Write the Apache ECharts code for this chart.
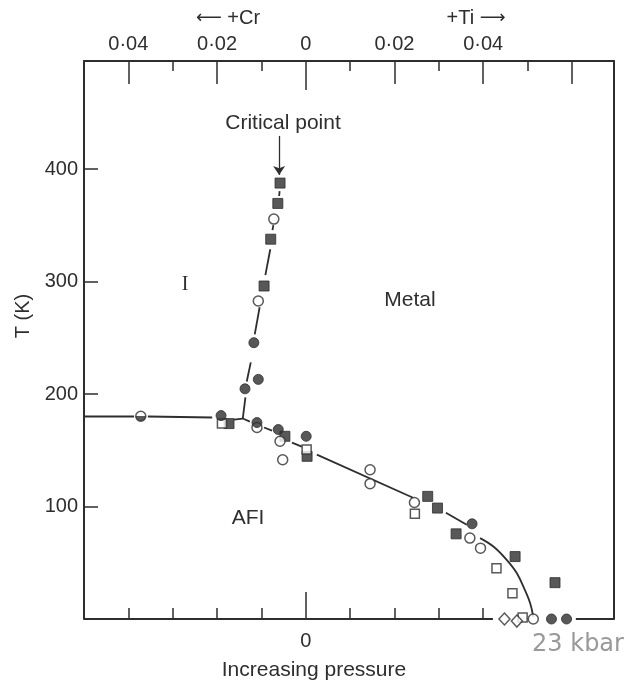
<!DOCTYPE html>
<html>
<head>
<meta charset="utf-8">
<script src="https://cdn.jsdelivr.net/npm/echarts@6/dist/echarts.min.js"></script>
<style>
  html, body { margin: 0; padding: 0; background: #fff; }
  #phase-chart { width: 628px; height: 690px; }
</style>
</head>
<body>
<div id="phase-chart"></div>
<script>
// x = composition (+Cr to the left, +Ti to the right), y = T (K)
var xMin = -0.05, xMax = 0.0695;
var yMin = 0, yMax = 496;
var yTicks = [100, 200, 300, 400];
var topMajorTicks = [-0.04, -0.02, 0.02, 0.04, 0.06];
var topMinorTicks = [-0.03, -0.01, 0.01, 0.03, 0.05];
var topLabels = [-0.04, -0.02, 0, 0.02, 0.04];
var bottomTicks = [-0.04, -0.03, -0.02, -0.01, 0, 0.01, 0.02, 0.03, 0.04];

var filledSquares = [
  [-0.0058, 387.5], [-0.0063, 369.4], [-0.0079, 337.6], [-0.0094, 296.0],
  [-0.0173, 173.7], [-0.0047, 162.4], [0.0003, 144.6], [0.0275, 109.0],
  [0.0297, 98.6], [0.0339, 75.7], [0.0472, 55.5], [0.0562, 32.3]
];
var openSquares = [
  [-0.0189, 173.7], [0.0002, 150.6], [0.0246, 93.5], [0.0430, 45.2],
  [0.0466, 22.9], [0.0489, 1.3]
];
var openCircles = [
  [-0.0072, 355.5], [-0.0107, 282.7], [-0.0110, 170.2], [-0.0058, 158.0],
  [-0.0052, 141.6], [0.0145, 132.7], [0.0145, 120.3], [0.0245, 103.6],
  [0.0370, 71.9], [0.0394, 63.0], [0.0513, 0]
];
var filledCircles = [
  [-0.0117, 245.6], [-0.0107, 213.0], [-0.0137, 204.6], [-0.0191, 180.8],
  [-0.0110, 174.6], [-0.0062, 168.4], [0.0001, 162.4], [0.0375, 84.6],
  [0.0554, 0], [0.0588, 0]
];
var openDiamonds = [[0.0448, 0], [0.0476, -1.8]];
var halfCircles = [[-0.0372, 180.2]];

// phase boundary, drawn in broken pieces as in the figure
var boundarySegs = [
  [[-0.05, 180], [-0.0387, 180]],
  [[-0.0356, 180], [-0.0211, 179.1]],
  [[-0.0162, 177.3], [-0.0142, 178.2], [-0.0126, 175.5]],
  [[-0.0142, 178.2], [-0.0136, 196.9]],
  [[-0.0133, 211.1], [-0.0124, 228.1]],
  [[-0.0115, 253.0], [-0.0104, 277.1]],
  [[-0.0091, 305.6], [-0.0080, 328.7]],
  [[-0.0075, 345.7], [-0.0073, 350.1]],
  [[-0.0060, 376.0], [-0.0059, 380.4]],
  [[-0.0094, 170.2], [-0.0076, 167.5]],
  [[-0.0031, 156.8], [-0.0009, 153.2]],
  [[0.0025, 146.1], [0.0242, 107.8]],
  [[0.0316, 94.4], [0.0363, 83.7]]
];
var curveSeg = [
  [0.0393, 71.9], [0.0423, 64.4], [0.0453, 52.6], [0.0476, 40.7],
  [0.0494, 25.8], [0.0506, 14.0], [0.0513, 2.0]
];
var baseLineSegs = [
  [[-0.05, 0], [0.0422, 0]],
  [[0.0609, 0], [0.0695, 0]]
];
var arrowPts = [[-0.0060, 429.4], [-0.0060, 394.7]];

var ink = '#2e2e2e';
var fontFam = '"Liberation Sans", Arial, sans-serif';
var chart = echarts.init(document.getElementById('phase-chart'));

function fmtTop(v) {
  if (Math.abs(v) < 1e-9) return '0';
  return Math.abs(v).toFixed(2).replace('.', '\u00b7');
}

function plainAxis(pos, extra) {
  var ax = {
    type: 'value', position: pos, min: xMin, max: xMax,
    axisLine: { show: false },
    axisTick: { show: false },
    axisLabel: { show: false },
    splitLine: { show: false }
  };
  for (var k in extra) ax[k] = extra[k];
  return ax;
}

var series = [];
boundarySegs.forEach(function (seg, i) {
  var s = {
    type: 'line', data: seg, symbol: 'none', silent: true, z: 2,
    lineStyle: { color: ink, width: 1.8 }
  };
  if (i === 8) {
    s.markLine = {
      silent: true, symbol: ['none', 'arrow'], symbolSize: 9,
      label: { show: false },
      lineStyle: { color: ink, width: 1.3, type: 'solid' },
      data: [[{ coord: arrowPts[0] }, { coord: arrowPts[1] }]]
    };
  }
  series.push(s);
});
series.push({
  type: 'line', data: curveSeg, symbol: 'none', smooth: 0.4, silent: true, z: 2,
  lineStyle: { color: ink, width: 1.8 }
});
baseLineSegs.forEach(function (seg) {
  series.push({
    type: 'line', data: seg, symbol: 'none', silent: true, z: 2,
    lineStyle: { color: ink, width: 2 }
  });
});

function markers(data, symbol, size, filled) {
  return {
    type: 'scatter', data: data, symbol: symbol, symbolSize: size, clip: false, z: 5,
    itemStyle: filled
      ? { color: ink, borderColor: ink, borderWidth: 1 }
      : { color: '#fff', borderColor: ink, borderWidth: 1.5 }
  };
}
series.push(markers(filledSquares, 'rect', 10, true));
series.push(markers(openSquares, 'rect', 9, false));
series.push(markers(openCircles, 'circle', 10, false));
series.push(markers(filledCircles, 'circle', 10, true));
series.push(markers(openDiamonds, 'diamond', [11, 12], false));
series.push({
  type: 'scatter', data: halfCircles, symbol: 'circle', symbolSize: 10, z: 5,
  itemStyle: {
    borderColor: ink, borderWidth: 1.5,
    color: {
      type: 'linear', x: 0, y: 0, x2: 0, y2: 1,
      colorStops: [
        { offset: 0, color: '#fff' }, { offset: 0.45, color: '#fff' },
        { offset: 0.45, color: ink }, { offset: 1, color: ink }
      ]
    }
  }
});

function txt(s, x, y, size, extra) {
  var st = {
    text: s, fill: ink, font: size + 'px ' + fontFam,
    textAlign: 'center', textVerticalAlign: 'middle'
  };
  var el = { type: 'text', x: x, y: y, z: 10, style: st };
  if (extra) for (var k in extra) el[k] = extra[k];
  return el;
}

// header texts with long arrows (DejaVu has the long-arrow glyphs)
function arrowTxt(s, x, y) {
  return {
    type: 'text', x: x, y: y, z: 10,
    style: {
      text: s, fill: ink, font: '20px ' + fontFam,
      textAlign: 'center', textVerticalAlign: 'middle',
      rich: { a: { fontFamily: '"DejaVu Sans", sans-serif', fontSize: 18, fill: ink } }
    }
  };
}

var option = {
  backgroundColor: '#fff',
  animation: false,
  grid: { left: 84, right: 14, top: 61, bottom: 71 },
  xAxis: [
    plainAxis('bottom', {
      axisTick: { show: true, inside: true, length: 11, customValues: bottomTicks,
        lineStyle: { color: ink, width: 1.5 } },
      axisLabel: { show: true, customValues: [0], formatter: fmtTop, margin: 12,
        color: ink, fontSize: 20, fontFamily: fontFam }
    }),
    plainAxis('bottom', {
      axisTick: { show: true, inside: true, length: 27, customValues: [0],
        lineStyle: { color: ink, width: 1.5 } }
    }),
    plainAxis('top', {
      axisLine: { show: true, onZero: false, lineStyle: { color: ink, width: 2 } },
      axisTick: { show: true, inside: true, length: 10, customValues: topMinorTicks,
        lineStyle: { color: ink, width: 1.5 } }
    }),
    plainAxis('top', {
      axisTick: { show: true, inside: true, length: 23, customValues: topMajorTicks,
        lineStyle: { color: ink, width: 1.5 } },
      axisLabel: { show: true, customValues: topLabels, formatter: fmtTop, margin: 7,
        color: ink, fontSize: 20, fontFamily: fontFam }
    }),
    plainAxis('top', {
      axisTick: { show: true, inside: true, length: 29, customValues: [0],
        lineStyle: { color: ink, width: 1.5 } }
    })
  ],
  yAxis: [
    {
      type: 'value', min: yMin, max: yMax, position: 'left',
      axisLine: { show: true, onZero: false, lineStyle: { color: ink, width: 2 } },
      axisTick: { show: true, inside: true, length: 14, customValues: yTicks,
        lineStyle: { color: ink, width: 1.5 } },
      axisLabel: { customValues: yTicks, margin: 6, color: ink, fontSize: 20, fontFamily: fontFam },
      splitLine: { show: false }
    },
    {
      type: 'value', min: yMin, max: yMax, position: 'right',
      axisLine: { show: true, onZero: false, lineStyle: { color: ink, width: 2 } },
      axisTick: { show: false }, axisLabel: { show: false }, splitLine: { show: false }
    }
  ],
  graphic: [
    txt('Critical point', 283, 123, 21),
    txt('I', 185, 285, 20, { style: { text: 'I', fill: ink, font: '20px "Liberation Serif", serif',
      textAlign: 'center', textVerticalAlign: 'middle' } }),
    txt('Metal', 410, 300, 21),
    txt('AFI', 248, 518, 21),
    arrowTxt('{a|\u27f5} +Cr', 228, 18),
    arrowTxt('+Ti {a|\u27f6}', 476, 18),
    txt('T (K)', 23, 316, 20, { rotation: Math.PI / 2 }),
    txt('Increasing pressure', 314, 670, 21),
    { type: 'text', x: 578, y: 645, z: 10,
      style: { text: '23 kbar', fill: '#999', font: '24px "DejaVu Sans", sans-serif',
        textAlign: 'center', textVerticalAlign: 'middle' } }
  ],
  series: series
};

chart.setOption(option);
</script>
</body>
</html>
